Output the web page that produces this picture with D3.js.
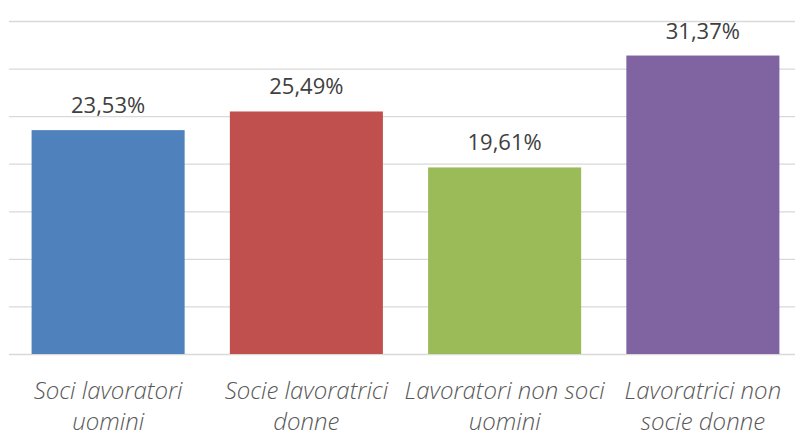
<!DOCTYPE html>
<html><head><meta charset="utf-8">
<script src="https://cdn.jsdelivr.net/npm/d3@7"></script>
<style>body{margin:0;background:#fff}svg{display:block}</style>
</head><body>
<svg id="c" width="795" height="433"></svg>
<script>
const categories = [["Soci lavoratori","uomini"],["Socie lavoratrici","donne"],["Lavoratori non soci","uomini"],["Lavoratrici non","socie donne"]];
const values = [23.53, 25.49, 19.61, 31.37];
const colors = ["#4F81BD","#C0504D","#9BBB59","#8064A2"];
const gridTicks = [0,5,10,15,20,25,30,35];

const svg = d3.select("#c");
const x = d3.scaleBand().domain(d3.range(categories.length)).range([9, 802]).paddingInner(0.228).paddingOuter(0.114);
const y = d3.scaleLinear().domain([0, 35]).range([354, 21]);

svg.append("g").selectAll("line").data(gridTicks).join("line")
  .attr("x1", 9).attr("x2", 795)
  .attr("y1", d => y(d)+0.5).attr("y2", d => y(d)+0.5)
  .attr("stroke", "#d9d9d9").attr("stroke-width", 1.3);

svg.append("g").selectAll("rect").data(values).join("rect")
  .attr("x", (d,i) => x(i)).attr("width", x.bandwidth())
  .attr("y", d => y(d)).attr("height", d => y(0) - y(d))
  .attr("fill", (d,i) => colors[i]);

const fmt = v => v.toFixed(2).replace(".", ",") + "%";
svg.append("g").selectAll("text").data(values).join("text")
  .attr("x", (d,i) => x(i) + x.bandwidth()/2).attr("y", d => y(d) - 17)
  .attr("text-anchor", "middle").attr("font-family", "Open Sans, sans-serif")
  .attr("font-size", 22).attr("fill", "#404040").text(fmt);

const lab = svg.append("g").selectAll("text").data(categories).join("text")
  .attr("text-anchor", "middle").attr("font-family", "Open Sans, sans-serif")
  .attr("font-style", "italic").attr("font-weight", 300)
  .attr("font-size", 24).attr("fill", "#595959");
lab.each(function(d,i){
  const t = d3.select(this);
  d.forEach((line, j) => {
    t.append("tspan").attr("x", x(i) + x.bandwidth()/2).attr("y", 399 + j*31).text(line);
  });
});
</script>
</body></html>
